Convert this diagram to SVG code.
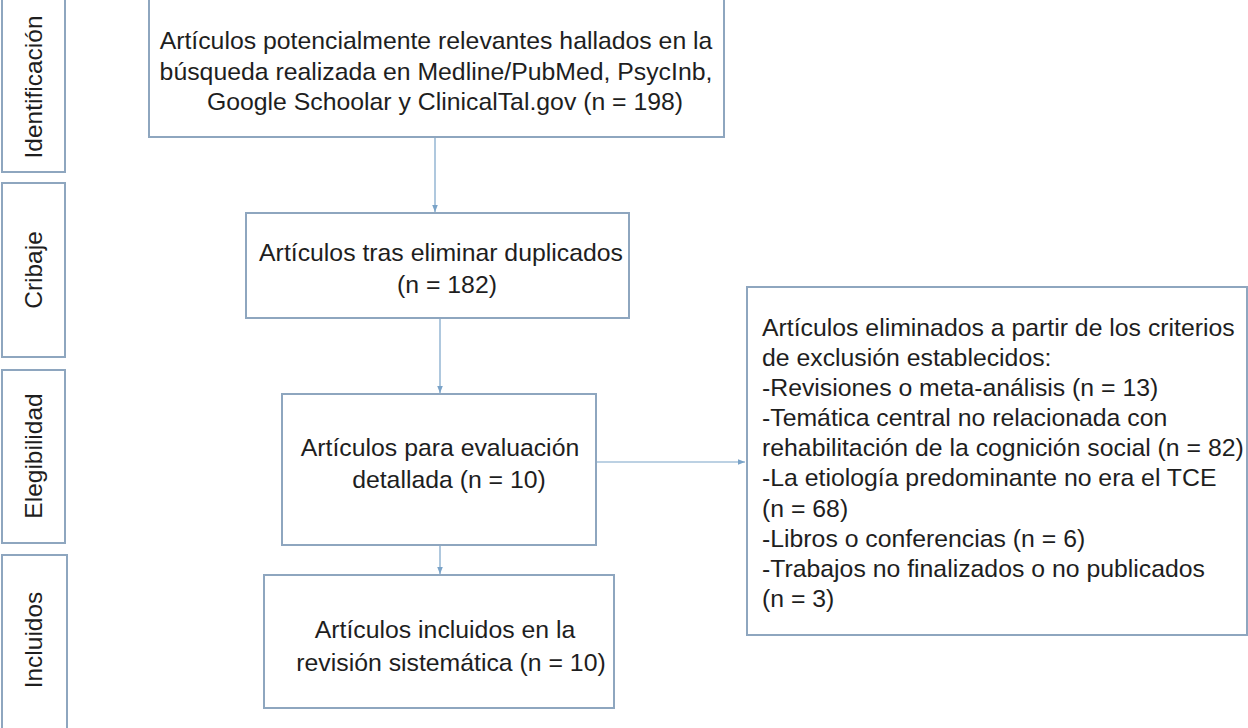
<svg xmlns="http://www.w3.org/2000/svg" width="1248" height="728" viewBox="0 0 1248 728">
<defs>
<style>
.box{fill:#fff;stroke:#8ea6bf;stroke-width:2}
.t{font-family:"Liberation Sans",Arial,sans-serif;font-size:24.8px;fill:#1e1e1e}
.c{text-anchor:middle}
.side{font-family:"Liberation Sans",Arial,sans-serif;font-size:24.5px;fill:#1e1e1e;text-anchor:middle}
.conn{stroke:#7aa3c8;stroke-width:1.2;fill:none;marker-end:url(#ah)}
</style>
<marker id="ah" viewBox="0 0 10 10" refX="10" refY="5" markerWidth="7" markerHeight="7" orient="auto" markerUnits="userSpaceOnUse">
<path d="M0,1 L10,5 L0,9 z" fill="#7aa3c8"/>
</marker>
</defs>
<rect width="1248" height="728" fill="#fff"/>

<g id="stage-identificacion">
<rect class="box" x="2" y="-2" width="63" height="174"/>
<text class="side" transform="translate(42,87) rotate(-90)">Identificación</text>
</g>
<g id="stage-cribaje">
<rect class="box" x="2" y="183" width="63" height="174"/>
<text class="side" transform="translate(42,270) rotate(-90)">Cribaje</text>
</g>
<g id="stage-elegibilidad">
<rect class="box" x="2" y="370" width="63" height="173"/>
<text class="side" transform="translate(42,456) rotate(-90)">Elegibilidad</text>
</g>
<g id="stage-incluidos">
<rect class="box" x="2" y="555" width="65" height="180"/>
<text class="side" transform="translate(42,640) rotate(-90)">Incluidos</text>
</g>

<g id="connectors">
<line class="conn" x1="435" y1="138" x2="435" y2="212"/>
<line class="conn" x1="440" y1="319" x2="440" y2="393"/>
<line class="conn" x1="440" y1="546" x2="440" y2="574"/>
<line class="conn" x1="597" y1="462" x2="745" y2="462"/>
</g>

<g id="node-identificados">
<rect class="box" x="149" y="-2" width="575" height="139"/>
<text class="t c" x="436" y="49">Artículos potencialmente relevantes hallados en la</text>
<text class="t c" x="436" y="80">búsqueda realizada en Medline/PubMed, PsycInb,</text>
<text class="t c" x="445" y="110">Google Schoolar y ClinicalTal.gov (n = 198)</text>
</g>

<g id="node-cribaje">
<rect class="box" x="246" y="213" width="383" height="105"/>
<text class="t c" x="441" y="261">Artículos tras eliminar duplicados</text>
<text class="t c" x="447" y="293">(n = 182)</text>
</g>

<g id="node-elegibilidad">
<rect class="box" x="282" y="394" width="314" height="151"/>
<text class="t c" x="440" y="456">Artículos para evaluación</text>
<text class="t c" x="449" y="488">detallada (n = 10)</text>
</g>

<g id="node-incluidos">
<rect class="box" x="264" y="575" width="350" height="133"/>
<text class="t c" x="445" y="638">Artículos incluidos en la</text>
<text class="t c" x="451" y="671">revisión sistemática (n = 10)</text>
</g>

<g id="node-excluidos">
<rect class="box" x="747" y="287" width="500" height="348"/>
<text class="t" x="762" y="336">Artículos eliminados a partir de los criterios</text>
<text class="t" x="762" y="366">de exclusión establecidos:</text>
<text class="t" x="762" y="396">-Revisiones o meta-análisis (n = 13)</text>
<text class="t" x="762" y="426">-Temática central no relacionada con</text>
<text class="t" x="762" y="456">rehabilitación de la cognición social (n = 82)</text>
<text class="t" x="762" y="486">-La etiología predominante no era el TCE</text>
<text class="t" x="762" y="517">(n = 68)</text>
<text class="t" x="762" y="547">-Libros o conferencias (n = 6)</text>
<text class="t" x="762" y="577">-Trabajos no finalizados o no publicados</text>
<text class="t" x="762" y="607">(n = 3)</text>
</g>
</svg>
